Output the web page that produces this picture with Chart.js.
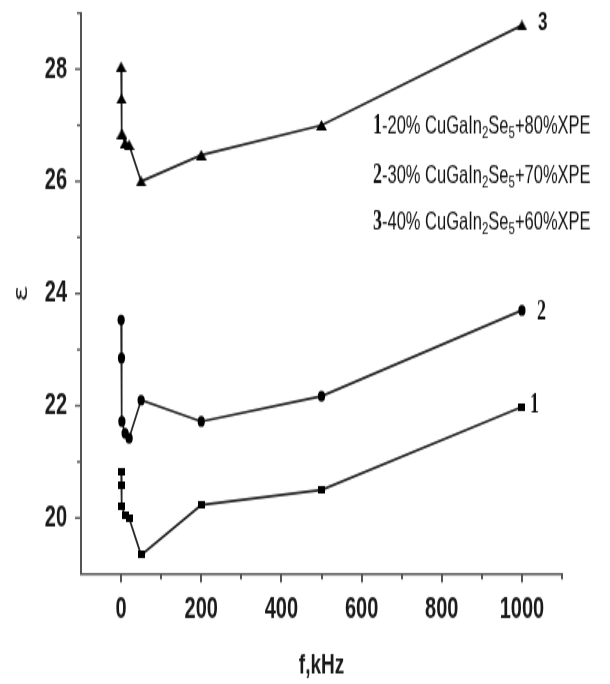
<!DOCTYPE html>
<html><head><meta charset="utf-8">
<script src="https://cdn.jsdelivr.net/npm/chart.js@4/dist/chart.umd.min.js"></script>
<style>
html,body{margin:0;padding:0;background:#fff;width:610px;height:684px}
#wrap{width:610px;height:456px;transform:scaleY(1.5);transform-origin:0 0}
canvas{display:block}
</style>
</head><body>
<div id="wrap"><canvas id="c" width="610" height="456"></canvas></div>
<script>
// ---- data ----
const freq = [0.1, 1, 2, 10, 20, 50, 200, 500, 1000];          // f, kHz
const series1 = [20.83, 20.59, 20.20, 20.05, 20.00, 19.34, 20.23, 20.50, 21.98]; // 20% CuGaIn2Se5 + 80% XPE
const series2 = [23.53, 22.85, 21.72, 21.51, 21.42, 22.10, 21.72, 22.17, 23.70]; // 30% CuGaIn2Se5 + 70% XPE
const series3 = [28.04, 27.47, 26.85, 26.68, 26.65, 26.00, 26.47, 27.00, 28.78]; // 40% CuGaIn2Se5 + 60% XPE
const xTickLabels = [0, 200, 400, 600, 800, 1000];
const yTickLabels = [20, 22, 24, 26, 28];
const xMinorTicks = [100, 300, 500, 700, 900, 1100];
const yMinorTicks = [21, 23, 25, 27, 29];
const seriesNumbers = ['1', '2', '3'];
const legendPct = ['20%', '30%', '40%'];
const legendXpe = ['80%XPE', '70%XPE', '60%XPE'];
const xTitle = 'f,kHz';
const yTitle = 'ε';

const SANS = '"Liberation Sans", Arial, sans-serif';
const SERIF = '"Liberation Serif", "DejaVu Serif", serif';

const toPts = (ys) => ys.map((y, i) => ({x: freq[i], y}));
const lineCol = '#262626';

function marker(kind) {
  const c = document.createElement('canvas');
  const g = c.getContext('2d');
  g.fillStyle = '#000';
  if (kind === 'square') {
    c.width = 7; c.height = 5;
    g.fillRect(0, 0, 7, 5);
  } else {
    c.width = 11; c.height = 7;
    g.beginPath(); g.moveTo(5.5, 0); g.lineTo(11, 7); g.lineTo(0, 7); g.closePath(); g.fill();
  }
  return c;
}

const ds = (label, ys, style, r) => ({
  label, data: toPts(ys), borderColor: lineCol, borderWidth: 1.7,
  pointStyle: style, pointRadius: r, pointBackgroundColor: '#000', pointBorderColor: '#000',
  pointBorderWidth: 0, tension: 0, fill: false
});

const tickMarks = {
  id: 'tickMarks',
  afterDraw(chart) {
    const ctx = chart.ctx, xs = chart.scales.x, ys = chart.scales.y;
    const ca = chart.chartArea;
    ctx.save();
    ctx.strokeStyle = '#555';
    ctx.lineWidth = 2;
    xTickLabels.concat(xMinorTicks).forEach(v => {
      const px = Math.round(xs.getPixelForValue(v));
      const len = xTickLabels.includes(v) ? 5.5 : 3.5;
      ctx.beginPath(); ctx.moveTo(px, ca.bottom); ctx.lineTo(px, ca.bottom + len); ctx.stroke();
    });
    ctx.lineWidth = 1.4;
    yTickLabels.concat(yMinorTicks).forEach(v => {
      const py = ys.getPixelForValue(v);
      const len = yTickLabels.includes(v) ? 6 : 4;
      ctx.beginPath(); ctx.moveTo(ca.left, py); ctx.lineTo(ca.left - len, py); ctx.stroke();
    });
    ctx.restore();
  }
};

const annotations = {
  id: 'annotations',
  afterDraw(chart) {
    const ctx = chart.ctx;
    ctx.save();
    ctx.fillStyle = '#111';
    ctx.textBaseline = 'middle';
    ctx.textAlign = 'left';
    // series numbers at line ends
    const offs = [[8, -1, 'bold 18px ' + SERIF], [15, 1, 'bold 18px ' + SERIF], [16, -2, 'bold 17px ' + SANS]];
    chart.data.datasets.forEach((d, i) => {
      const meta = chart.getDatasetMeta(i);
      const p = meta.data[meta.data.length - 1];
      ctx.font = offs[i][2];
      ctx.fillText(seriesNumbers[i], p.x + offs[i][0], p.y + offs[i][1]);
    });
    // legend block
    const rows = [84.5, 117, 148.5];
    const x0 = 373;
    for (let i = 0; i < 3; i++) {
      const y = rows[i];
      let x = x0;
      ctx.font = 'bold 18px ' + SERIF;
      ctx.fillText(seriesNumbers[i], x, y);
      x += ctx.measureText(seriesNumbers[i]).width;
      const big = '16.5px ' + SANS, small = '11.5px ' + SANS;
      const parts = [['-' + legendPct[i] + ' CuGaIn', big, 0], ['2', small, 4.5], ['Se', big, 0], ['5', small, 4.5], ['+' + legendXpe[i], big, 0]];
      parts.forEach(([t, f, dy]) => {
        ctx.font = f;
        ctx.fillText(t, x, y + dy);
        x += ctx.measureText(t).width;
      });
    }
    ctx.restore();
  }
};

new Chart(document.getElementById('c'), {
  type: 'line',
  data: { datasets: [
    ds('1', series1, marker('square'), 4),
    ds('2', series2, 'circle', 3.6),
    ds('3', series3, marker('triangle'), 5)
  ]},
  options: {
    responsive: false, animation: false, devicePixelRatio: 1,
    layout: { padding: { left: 0, right: 48, top: 8.7, bottom: 0 } },
    plugins: { legend: { display: false }, tooltip: { enabled: false } },
    scales: {
      x: {
        type: 'linear', min: -100, max: 1100,
        afterBuildTicks: (a) => { a.ticks = xTickLabels.map(v => ({ value: v })); },
        afterFit: (a) => { a.height = 73.3; a.paddingLeft = 0; a.paddingRight = 0; },
        border: { display: true, color: '#555', width: 1.4 },
        grid: { display: false, drawTicks: false },
        ticks: { font: { family: SANS, size: 20, weight: 'bold' }, color: '#1a1a1a', padding: 12, maxRotation: 0,
                 callback: (v) => String(v) },
        title: { display: true, text: xTitle, font: { family: SANS, size: 19, weight: 'bold' }, color: '#1a1a1a', padding: { top: 0, bottom: 1 } }
      },
      y: {
        type: 'linear', min: 19, max: 29,
        afterBuildTicks: (a) => { a.ticks = yTickLabels.map(v => ({ value: v })); },
        afterFit: (a) => { a.width = 81; a.paddingTop = 0; a.paddingBottom = 0; },
        border: { display: true, color: '#555', width: 2 },
        grid: { display: false, drawTicks: false },
        ticks: { font: { family: SANS, size: 20, weight: 'bold' }, color: '#1a1a1a', padding: 14,
                 callback: (v) => String(v) },
        title: { display: true, text: yTitle, font: { family: '"DejaVu Sans", sans-serif', size: 20 }, color: '#1a1a1a', padding: { top: 10, bottom: 0 } }
      }
    }
  },
  plugins: [tickMarks, annotations]
});
</script>
</body></html>
